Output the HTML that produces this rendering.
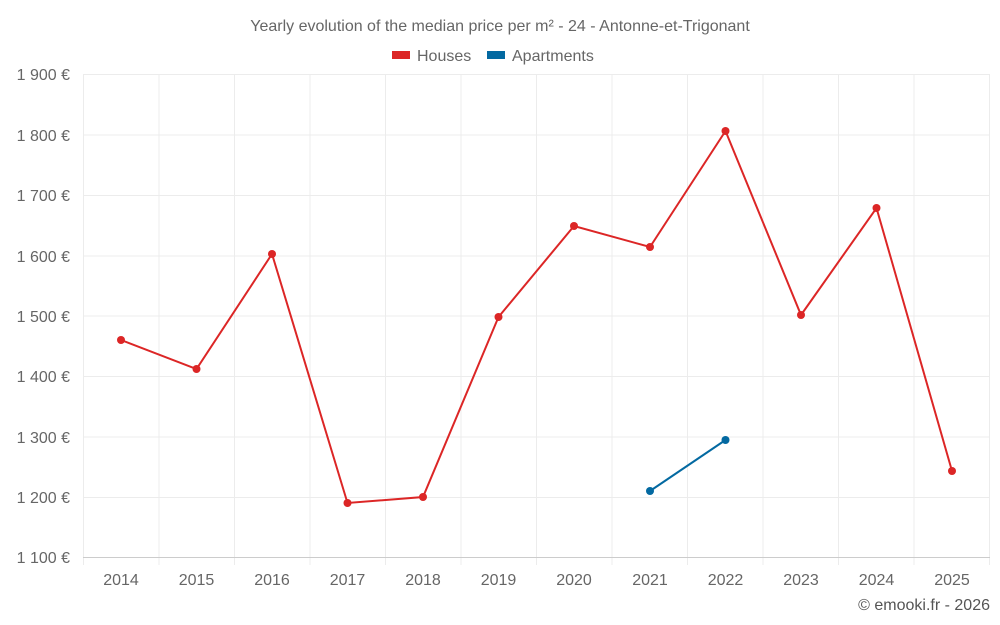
<!DOCTYPE html>
<html><head><meta charset="utf-8"><style>
body{margin:0;background:#fff;}
svg{display:block;font-family:"Liberation Sans",sans-serif;}
</style></head><body>
<svg width="1000" height="625" viewBox="0 0 1000 625">
<text x="500" y="31" text-anchor="middle" font-size="16" fill="#666">Yearly evolution of the median price per m² - 24 - Antonne-et-Trigonant</text>
<rect x="392" y="51" width="18" height="8" fill="#dc2626"/>
<text x="417" y="61" font-size="16" fill="#666">Houses</text>
<rect x="487" y="51" width="18" height="8" fill="#0369a1"/>
<text x="512" y="61" font-size="16" fill="#666">Apartments</text>
<g stroke="#ececec" stroke-width="1">
<line x1="83" y1="74.5" x2="990" y2="74.5"/><line x1="83" y1="135" x2="990" y2="135"/><line x1="83" y1="195.5" x2="990" y2="195.5"/><line x1="83" y1="256" x2="990" y2="256"/><line x1="83" y1="316" x2="990" y2="316"/><line x1="83" y1="376.5" x2="990" y2="376.5"/><line x1="83" y1="437" x2="990" y2="437"/><line x1="83" y1="497.5" x2="990" y2="497.5"/>
<line x1="83.5" y1="74" x2="83.5" y2="565"/><line x1="159" y1="74" x2="159" y2="565"/><line x1="234.5" y1="74" x2="234.5" y2="565"/><line x1="310" y1="74" x2="310" y2="565"/><line x1="385.5" y1="74" x2="385.5" y2="565"/><line x1="461" y1="74" x2="461" y2="565"/><line x1="536.5" y1="74" x2="536.5" y2="565"/><line x1="612" y1="74" x2="612" y2="565"/><line x1="687.5" y1="74" x2="687.5" y2="565"/><line x1="763" y1="74" x2="763" y2="565"/><line x1="838.5" y1="74" x2="838.5" y2="565"/><line x1="914" y1="74" x2="914" y2="565"/><line x1="989.5" y1="74" x2="989.5" y2="565"/>
</g>
<line x1="83" y1="557.5" x2="990" y2="557.5" stroke="#ccc"/>
<g font-size="16" fill="#666" text-anchor="end">
<text x="70" y="80">1 900 €</text><text x="70" y="141">1 800 €</text><text x="70" y="201">1 700 €</text><text x="70" y="262">1 600 €</text><text x="70" y="322">1 500 €</text><text x="70" y="382">1 400 €</text><text x="70" y="443">1 300 €</text><text x="70" y="503">1 200 €</text><text x="70" y="563">1 100 €</text>
</g>
<g font-size="16" fill="#666" text-anchor="middle">
<text x="121" y="585">2014</text><text x="196.5" y="585">2015</text><text x="272" y="585">2016</text><text x="347.5" y="585">2017</text><text x="423" y="585">2018</text><text x="498.5" y="585">2019</text><text x="574" y="585">2020</text><text x="650" y="585">2021</text><text x="725.5" y="585">2022</text><text x="801" y="585">2023</text><text x="876.5" y="585">2024</text><text x="952" y="585">2025</text>
</g>
<text x="990" y="610" text-anchor="end" font-size="16" fill="#555">© emooki.fr - 2026</text>
<polyline fill="none" stroke="#dc2626" stroke-width="2" points="121,340 196.5,369 272,254 347.5,503 423,497 498.5,317 574,226 650,247 725.5,131 801,315 876.5,208 952,471"/>
<g fill="#dc2626">
<circle cx="121" cy="340" r="4"/><circle cx="196.5" cy="369" r="4"/><circle cx="272" cy="254" r="4"/><circle cx="347.5" cy="503" r="4"/><circle cx="423" cy="497" r="4"/><circle cx="498.5" cy="317" r="4"/><circle cx="574" cy="226" r="4"/><circle cx="650" cy="247" r="4"/><circle cx="725.5" cy="131" r="4"/><circle cx="801" cy="315" r="4"/><circle cx="876.5" cy="208" r="4"/><circle cx="952" cy="471" r="4"/>
</g>
<polyline fill="none" stroke="#0369a1" stroke-width="2" points="650,491 725.5,440"/>
<circle cx="650" cy="491" r="4" fill="#0369a1"/><circle cx="725.5" cy="440" r="4" fill="#0369a1"/>
</svg>
</body></html>
